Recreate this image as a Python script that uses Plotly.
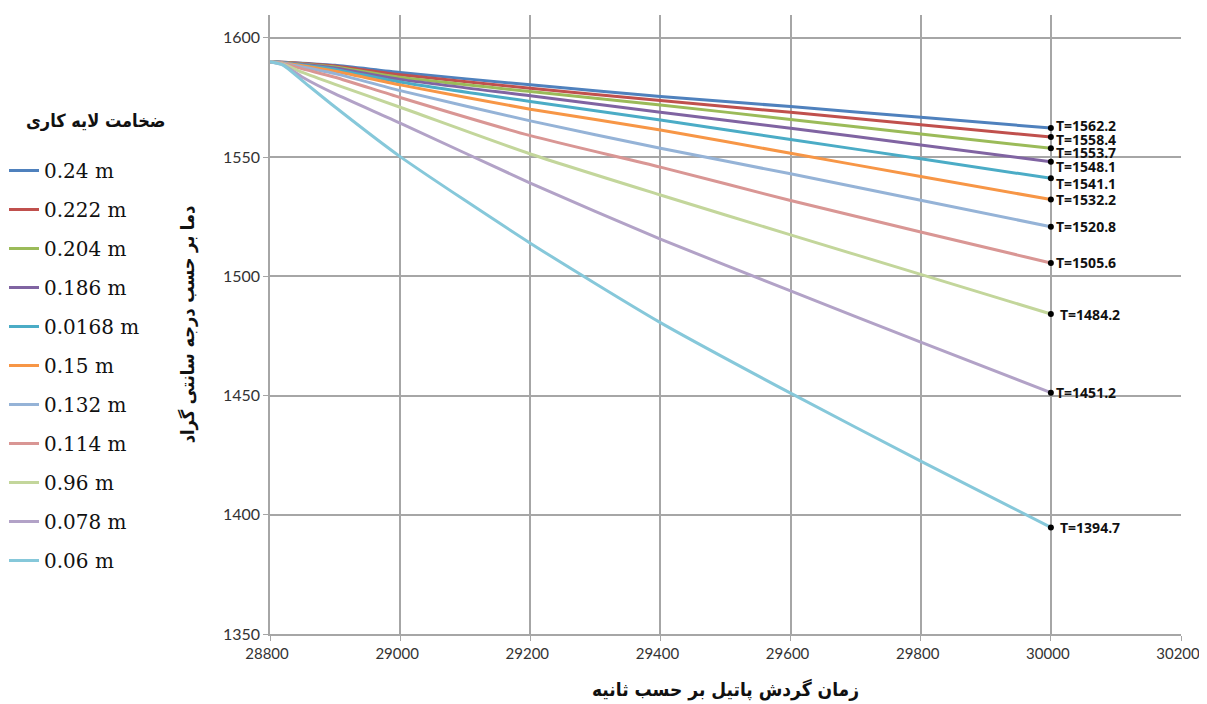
import plotly.graph_objects as go

time_s = [28800, 28820, 28850, 28900, 29000, 29200, 29400, 29600, 29800, 30000]

thickness_labels = ["0.24 m", "0.222 m", "0.204 m", "0.186 m", "0.0168 m", "0.15 m",
                    "0.132 m", "0.114 m", "0.96 m", "0.078 m", "0.06 m"]

colors = ["#4F81BD", "#C0504D", "#9BBB59", "#8064A2", "#4BACC6", "#F79646",
          "#95B3D7", "#D99694", "#C3D69B", "#B2A2C7", "#86C8DA"]

t_024 = [1590, 1589.8, 1589.4, 1588.5, 1585.5, 1580.3, 1575.4, 1571.2, 1566.7, 1562.2]
t_0222 = [1590, 1589.8, 1589.3, 1588.2, 1584.5, 1578.9, 1573.7, 1568.8, 1563.6, 1558.4]
t_0204 = [1590, 1589.7, 1589.1, 1587.8, 1583.5, 1577.5, 1571.9, 1565.8, 1559.7, 1553.7]
t_0186 = [1590, 1589.7, 1588.9, 1587.4, 1582.6, 1575.7, 1568.8, 1562.1, 1555.1, 1548.1]
t_00168 = [1590, 1589.6, 1588.6, 1586.8, 1581.5, 1573.3, 1565.6, 1557.4, 1549.3, 1541.1]
t_015 = [1590, 1589.5, 1588.3, 1586.0, 1580.3, 1570.1, 1561.4, 1551.6, 1541.9, 1532.2]
t_0132 = [1590, 1589.4, 1587.8, 1585.0, 1577.9, 1565.2, 1553.7, 1543.0, 1531.9, 1520.8]
t_0114 = [1590, 1589.3, 1587.0, 1583.5, 1575.0, 1559.0, 1545.8, 1531.8, 1518.6, 1505.6]
t_096 = [1590, 1589.0, 1585.5, 1580.5, 1570.9, 1551.3, 1534.1, 1517.4, 1500.8, 1484.2]
t_0078 = [1590, 1588.7, 1583.5, 1576.5, 1564.3, 1539.1, 1515.6, 1493.9, 1472.4, 1451.2]
t_006 = [1590, 1588.6, 1582.0, 1571.0, 1550.2, 1513.9, 1480.6, 1451.0, 1422.5, 1394.7]

series = [t_024, t_0222, t_0204, t_0186, t_00168, t_015, t_0132, t_0114, t_096, t_0078, t_006]

end_labels = ["T=1562.2", "T=1558.4", "T=1553.7", "T=1548.1", "T=1541.1", "T=1532.2",
              "T=1520.8", "T=1505.6", "T=1484.2", "T=1451.2", "T=1394.7"]
label_yshift = [3, -2, -4, -5, -5, 0, 0, 0, 0, 0, 0]
label_xshift = [3, 3, 3, 3, 3, 3, 3, 3, 7, 3, 7]

x_ticks = [28800, 29000, 29200, 29400, 29600, 29800, 30000, 30200]
y_ticks = [1350, 1400, 1450, 1500, 1550, 1600]

ARABIC = "DejaVu Sans Condensed, DejaVu Sans"

fig = go.Figure()

for i, (name, vals, col) in enumerate(zip(thickness_labels, series, colors)):
    fig.add_trace(go.Scatter(
        x=time_s, y=vals, mode="lines", name=name,
        line=dict(color=col, width=3, shape="spline", smoothing=0.6),
        legendgroup="g%d" % i,
    ))

fig.add_trace(go.Scatter(
    x=[time_s[-1]] * len(series), y=[s[-1] for s in series], mode="markers",
    marker=dict(color="black", size=6), showlegend=False, hoverinfo="skip",
))

for s, lab, ys, xs in zip(series, end_labels, label_yshift, label_xshift):
    fig.add_annotation(x=time_s[-1], y=s[-1], text="<b>%s</b>" % lab, showarrow=False,
                       xanchor="left", yanchor="middle", xshift=xs, yshift=ys,
                       font=dict(family="Open Sans", size=14, color="#111111"))

# legend title as annotation
fig.add_annotation(xref="paper", yref="paper", x=(95 - 270) / 911, y=(634 - 120) / 619,
                   text="<b>ضخامت لایه کاری</b>", showarrow=False,
                   xanchor="center", yanchor="middle",
                   font=dict(family=ARABIC, size=18, color="#111111"))

fig.update_layout(
    width=1199, height=696,
    paper_bgcolor="white", plot_bgcolor="white",
    margin=dict(l=262, r=26, t=7, b=70, autoexpand=False),
    font=dict(family="Lato", color="#222222"),
    legend=dict(
        x=-0.292, xanchor="left", y=(634 - 151) / 619, yanchor="top",
        font=dict(family="DejaVu Serif", size=20, color="#111111"),
        tracegroupgap=10, itemwidth=30,
        bgcolor="rgba(0,0,0,0)",
    ),
    xaxis=dict(
        range=[28800, 30200], tickvals=x_ticks, ticktext=[str(v) for v in x_ticks],
        showgrid=True, gridcolor="#A6A6A6", gridwidth=1.5,
        showline=True, linecolor="#A6A6A6", linewidth=1.5,
        ticks="outside", ticklen=5, tickcolor="#A6A6A6",
        tickfont=dict(family="Lato", size=15, color="#333333"),
        ticklabelshift=-3,
        zeroline=False, automargin=False,
        title=dict(text="<b>زمان گردش پاتیل بر حسب ثانیه</b>", standoff=22,
                   font=dict(family=ARABIC, size=19, color="#111111")),
    ),
    yaxis=dict(
        range=[1350, 1609.6], tickvals=y_ticks, ticktext=[str(v) for v in y_ticks],
        showgrid=True, gridcolor="#A6A6A6", gridwidth=1.5,
        showline=True, linecolor="#A6A6A6", linewidth=1.5,
        ticks="outside", ticklen=5, tickcolor="#A6A6A6",
        tickfont=dict(family="Lato", size=16, color="#333333"),
        zeroline=False, automargin=False,
        title=dict(text="<b>دما بر حسب درجه سانتی گراد</b>", standoff=24,
                   font=dict(family=ARABIC, size=18, color="#111111")),
    ),
)

fig.write_html("out.html")
